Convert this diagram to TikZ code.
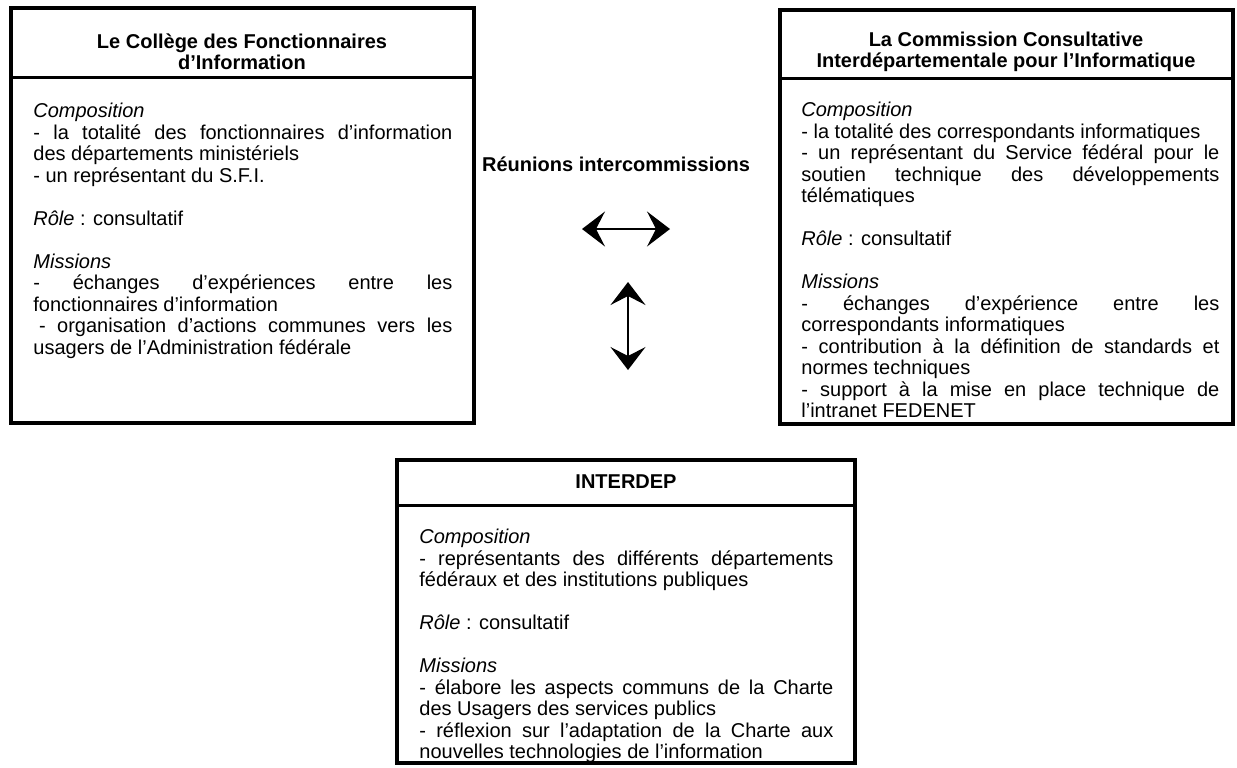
\documentclass[tikz,border=0pt]{standalone}
\usepackage{fontspec}
\setmainfont{Liberation Sans}
\usetikzlibrary{arrows.meta}
\tolerance=10000
\hbadness=10000
\hyphenpenalty=10000
\exhyphenpenalty=10000

\begin{document}
\begin{tikzpicture}[x=0.5pt,y=-0.5pt,
        frame/.style={line width=2pt},
        rule/.style={line width=1.5pt},
        title/.style={font=\fontsize{10}{10.75}\selectfont\bfseries, align=center, inner sep=0pt},
        body/.style={font=\fontsize{10}{10.75}\selectfont, text width=#1, align=justify, inner sep=0pt, anchor=north west},
        biarrow/.style={{Stealth[length=11.5pt,width=17.5pt,inset=4.5pt]}-{Stealth[length=11.5pt,width=17.5pt,inset=4.5pt]}, line width=0.8pt}]
        \useasboundingbox (0,0) rectangle (1237,767);
        % college des fonctionnaires
        \draw [frame] (11,8) rectangle (474,423);
        \draw [rule] (11,77) -- (474,77);
        \node [title] (collegetitle) at (242,52) {Le Collège des Fonctionnaires\\d’Information};
        \node [body=209.5pt] (collegebody) at (33,103) {\textit{Composition}\\
            - la totalité des fonctionnaires d’information \linebreak des départements ministériels\\
            - un représentant du S.F.I.\\[10.75pt]
            \textit{Rôle} : consultatif\\[10.75pt]
            \textit{Missions}\\
            - échanges d’expériences entre les \linebreak fonctionnaires d’information\\
            \hspace*{0.28em}- organisation d’actions communes vers les \linebreak usagers de l’Administration fédérale};
        % commission consultative
        \draw [frame] (780,10) rectangle (1233,424);
        \draw [rule] (780,78) -- (1233,78);
        \node [title] (ccititle) at (1006,52) {La Commission Consultative\\Interdépartementale pour l’Informatique};
        \node [body=209pt] (ccibody) at (801,102) {\textit{Composition}\\
            - la totalité des correspondants informatiques\\
            - un représentant du Service fédéral pour le \linebreak soutien technique des développements \linebreak télématiques\\[10.75pt]
            \textit{Rôle} : consultatif\\[10.75pt]
            \textit{Missions}\\
            - échanges d’expérience entre les \linebreak correspondants informatiques\\
            - contribution à la définition de standards et \linebreak normes techniques\\
            - support à la mise en place technique de \linebreak l’intranet FEDENET};
        % interdep
        \draw [frame] (397,460) rectangle (855,763);
        \draw [rule] (397,505) -- (855,505);
        \node [title] (interdeptitle) at (626,482) {INTERDEP};
        \node [body=207pt] (interdepbody) at (419,529) {\textit{Composition}\\
            - représentants des différents départements \linebreak fédéraux et des institutions publiques\\[10.75pt]
            \textit{Rôle} : consultatif\\[10.75pt]
            \textit{Missions}\\
            - élabore les aspects communs de la Charte \linebreak des Usagers des services publics\\
            - réflexion sur l’adaptation de la Charte aux \linebreak nouvelles technologies de l’information};
        % echanges
        \node [title] (meetings) at (616,164) {Réunions intercommissions};
        \coordinate (hleft) at (582,229);
        \coordinate (hright) at (670,229);
        \coordinate (vtop) at (628,282);
        \coordinate (vbottom) at (628,370);
        \draw [biarrow] (hleft) -- (hright);
        \draw [biarrow] (vtop) -- (vbottom);
\end{tikzpicture}
\end{document}
